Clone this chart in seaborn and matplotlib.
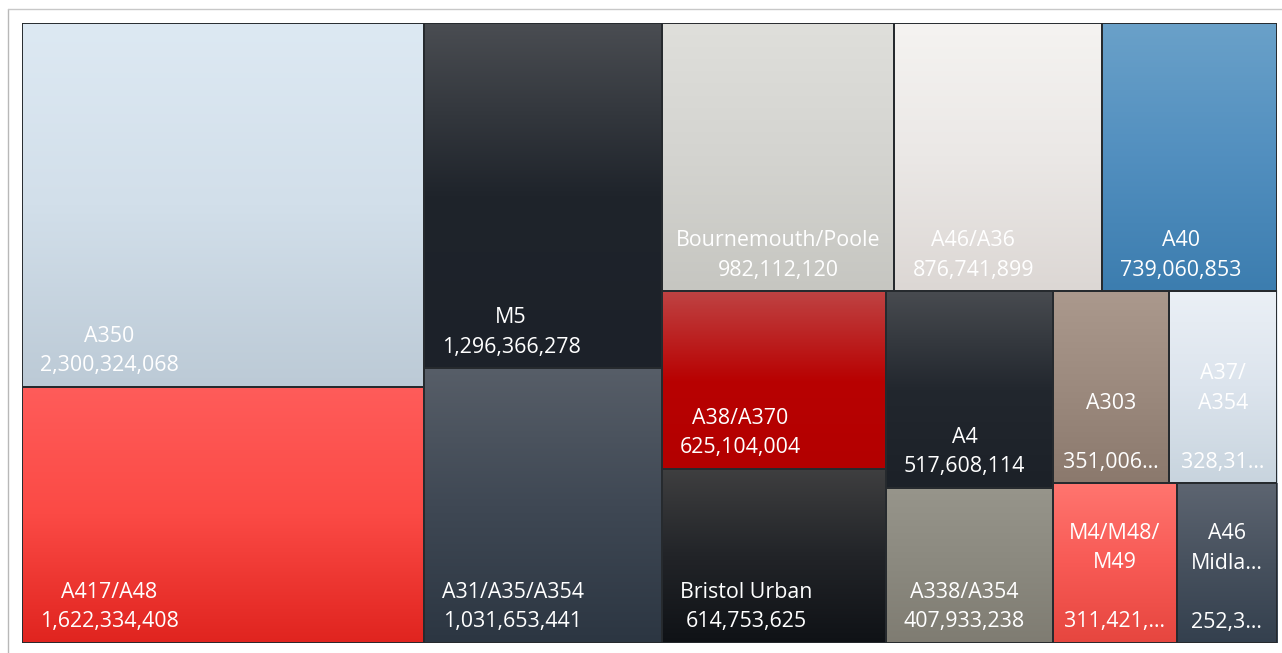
import numpy as np
import matplotlib
matplotlib.use("Agg")
import matplotlib.pyplot as plt
import seaborn as sns
from matplotlib.patches import Rectangle
from matplotlib.lines import Line2D

# Annual traffic volume by route
routes = ["A350", "A417/A48", "M5", "A31/A35/A354", "Bournemouth/Poole",
          "A46/A36", "A40", "A38/A370", "Bristol Urban", "A4",
          "A338/A354", "A303", "A37/A354", "M4/M48/M49", "A46 Midlands"]
volumes = [2300324068, 1622334408, 1296366278, 1031653441, 982112120,
           876741899, 739060853, 625104004, 614753625, 517608114,
           407933238, 351006412, 328314527, 311421906, 252347180]

# Vertical gradient stops (top -> bottom) for each tile
tile_gradients = [
    ["#dde9f3", "#d2dfea", "#bccad6"],
    ["#ff5c5a", "#fb4a45", "#e0241f"],
    ["#4a4d52", "#1f242b", "#1c2129"],
    ["#575e68", "#3f4854", "#2c3642"],
    ["#dfdfdb", "#d4d4d0", "#c6c6c1"],
    ["#f5f3f1", "#ebe8e6", "#dcd7d4"],
    ["#6aa1c9", "#528fbf", "#3c7daf"],
    ["#bf4343", "#b80202", "#b30000"],
    ["#3f3f40", "#222428", "#0f1216"],
    ["#484b50", "#22272e", "#1c2128"],
    ["#97958b", "#8b897f", "#7f7c72"],
    ["#ab998d", "#9c8a7e", "#8b796d"],
    ["#ebf0f6", "#dce4ed", "#c8d4de"],
    ["#ff756f", "#f85a55", "#e6463f"],
    ["#5d6571", "#47515e", "#34404e"],
]

FIG_W, FIG_H = 1282, 653
AX_L, AX_B, AX_W, AX_H = 22, 10, 1255, 620
FONT_SIZE = 15.4
LINE_GAP = 29.5
BASE_OFFSET = 15.5
PAD_BLOCK = 18
PAD_FIT = 9


def worst_ratio(row, side):
    s = sum(row)
    return max(max(side * side * r / (s * s), (s * s) / (side * side * r)) for r in row)


def squarify(areas, x, y, w, h):
    rects = []
    rest = list(areas)
    while rest:
        side = min(w, h)
        row = [rest[0]]
        i = 1
        while i < len(rest) and worst_ratio(row + [rest[i]], side) <= worst_ratio(row, side):
            row.append(rest[i])
            i += 1
        s = sum(row)
        if w >= h:
            cw = s / h
            yy = y
            for a in row:
                rh = a / cw
                rects.append((x, yy, cw, rh))
                yy += rh
            x += cw
            w -= cw
        else:
            rh = s / w
            xx = x
            for a in row:
                rw = a / rh
                rects.append((xx, y, rw, rh))
                xx += rw
            y += rh
            h -= rh
        rest = rest[i:]
    return rects


sns.set_theme(style="white")
plt.rcParams["font.family"] = ["Open Sans", "DejaVu Sans"]

fig = plt.figure(figsize=(FIG_W / 100, FIG_H / 100), dpi=100)
fig.patch.set_facecolor("white")
ax = fig.add_axes([AX_L / FIG_W, AX_B / FIG_H, AX_W / FIG_W, AX_H / FIG_H])

W, H = float(AX_W), float(AX_H)
total = float(sum(volumes))
areas = [v / total * W * H for v in volumes]
rects = squarify(areas, 0.0, 0.0, W, H)

grad = np.linspace(0, 1, 256).reshape(-1, 1)
for (x0, y0, w, h), stops in zip(rects, tile_gradients):
    cmap = sns.blend_palette(stops, as_cmap=True)
    ax.imshow(grad, cmap=cmap, extent=(x0, x0 + w, y0 + h, y0), origin="upper",
              aspect="auto", interpolation="bilinear", zorder=1)
    ax.add_patch(Rectangle((x0, y0), w, h, fill=False, edgecolor="#262a2e",
                           linewidth=1.4, zorder=3))

ax.set_xlim(0, W)
ax.set_ylim(H, 0)
ax.set_axis_off()

renderer = fig.canvas.get_renderer()


def text_width(s):
    t = ax.text(0, 0, s, fontsize=FONT_SIZE)
    wpx = t.get_window_extent(renderer).width
    t.remove()
    return wpx


def truncate(s, maxw):
    if text_width(s) <= maxw:
        return s, False
    while len(s) > 1 and text_width(s + "\u2026") > maxw:
        s = s[:-1]
    return s + "\u2026", True


def wrap(name, maxw):
    if text_width(name) <= maxw:
        return [name]
    tokens = []
    cur = ""
    for ch in name:
        if ch == " ":
            tokens.append(cur)
            cur = ""
        else:
            cur += ch
            if ch == "/":
                tokens.append(cur)
                cur = ""
    if cur:
        tokens.append(cur)
    lines = []
    line = ""
    for tok in tokens:
        cand = tok if not line else (line + tok if line.endswith("/") else line + " " + tok)
        if line and text_width(cand) > maxw:
            lines.append(line)
            line = tok
        else:
            line = cand
    lines.append(line)
    return [truncate(l, maxw)[0] for l in lines]


for (x0, y0, w, h), name, vol in zip(rects, routes, volumes):
    maxw = w - 2 * PAD_FIT
    value_txt, cut = truncate(f"{vol:,}", maxw)
    name_lines = wrap(name, maxw)
    block_w = max(text_width(s) for s in name_lines + [value_txt])
    left = x0 + min(PAD_BLOCK, (w - block_w) / 2)
    cx = left + block_w / 2
    base = y0 + h - BASE_OFFSET
    ax.text(cx, base, value_txt, ha="center", va="baseline", color="white",
            fontsize=FONT_SIZE, zorder=4)
    gap = 2 * LINE_GAP if cut else LINE_GAP
    for k, line in enumerate(reversed(name_lines)):
        ax.text(cx, base - gap - k * LINE_GAP, line, ha="center", va="baseline",
                color="white", fontsize=FONT_SIZE, zorder=4)

# Light outer frame
fig.add_artist(Line2D([7.5 / FIG_W, 7.5 / FIG_W], [0, 1 - 8.5 / FIG_H],
                      transform=fig.transFigure, color="#b8b8b8", linewidth=1.0))
fig.add_artist(Line2D([7.5 / FIG_W, 1], [1 - 8.5 / FIG_H, 1 - 8.5 / FIG_H],
                      transform=fig.transFigure, color="#c8c8c8", linewidth=1.0))

fig.savefig("out.png", dpi=100, facecolor="white")
